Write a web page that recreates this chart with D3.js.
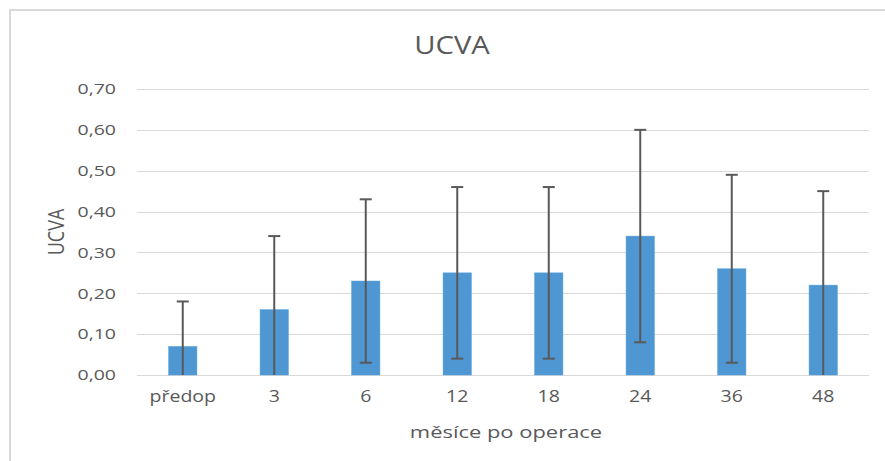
<!DOCTYPE html>
<html>
<head>
<meta charset="utf-8">
<script src="https://cdn.jsdelivr.net/npm/d3@7"></script>
<style>
body { margin: 0; background: #fff; }
svg text { font-family: "Open Sans", sans-serif; fill: #595959; }
</style>
</head>
<body>
<svg id="chart" width="885" height="461"></svg>
<script>
// data
var categories = ["předop", "3", "6", "12", "18", "24", "36", "48"];
var means = [0.07, 0.16, 0.23, 0.25, 0.25, 0.34, 0.26, 0.22];
var sds = [0.11, 0.18, 0.20, 0.21, 0.21, 0.26, 0.23, 0.23];
var yTicks = [0, 0.1, 0.2, 0.3, 0.4, 0.5, 0.6, 0.7];

var svg = d3.select("#chart");
var plotLeft = 137, plotRight = 869, plotTop = 89, plotBottom = 375;

// text in the original is drawn a bit wide
function stretch(sel, k){
  sel.each(function(){
    var w = this.getComputedTextLength();
    d3.select(this).attr("textLength", w * k).attr("lengthAdjust", "spacingAndGlyphs");
  });
}

// frame
svg.append("rect")
  .attr("x", 10).attr("y", 10)
  .attr("width", 890).attr("height", 470)
  .attr("fill", "none").attr("stroke", "#d9d9d9").attr("stroke-width", 2);

var x = d3.scaleBand().domain(categories).range([plotLeft, plotRight]).paddingInner(0.69).paddingOuter(0.345);
var y = d3.scaleLinear().domain([0, 0.7]).range([plotBottom, plotTop]);
var fmt = function(d){ return d3.format(".2f")(d).replace(".", ","); };

// grid
svg.append("g").selectAll("line").data(yTicks).enter().append("line")
  .attr("x1", plotLeft).attr("x2", plotRight)
  .attr("y1", function(d){ return Math.round(y(d)) + 0.5; })
  .attr("y2", function(d){ return Math.round(y(d)) + 0.5; })
  .attr("stroke", "#d9d9d9").attr("stroke-width", 1);

// y axis labels
var yAxis = d3.axisLeft(y).tickValues(yTicks).tickFormat(fmt).tickSize(0).tickPadding(21);
var gy = svg.append("g").attr("transform", "translate(" + plotLeft + ",0)").call(yAxis);
gy.select(".domain").remove();
gy.selectAll("text").style("font-size", "15px").attr("fill", "#595959").call(stretch, 1.3);

// x axis labels
var xAxis = d3.axisBottom(x).tickSize(0).tickPadding(16);
var gx = svg.append("g").attr("transform", "translate(0," + plotBottom + ")").call(xAxis);
gx.select(".domain").remove();
gx.selectAll("text").style("font-size", "16px").attr("fill", "#595959").call(stretch, 1.22);

// bars
svg.append("g").selectAll("rect").data(means).enter().append("rect")
  .attr("x", function(d, i){ return x(categories[i]); })
  .attr("width", x.bandwidth())
  .attr("y", function(d){ return y(d); })
  .attr("height", function(d){ return y(0) - y(d); })
  .attr("fill", "#4f97d3").attr("stroke", "#5aa3dc").attr("stroke-width", 0.5);

// error bars (lower end clipped at 0, no cap there)
var eb = svg.append("g").selectAll("g").data(means).enter().append("g")
  .attr("transform", function(d, i){ return "translate(" + (x(categories[i]) + x.bandwidth() / 2) + ",0)"; });
eb.append("line")
  .attr("x1", 0).attr("x2", 0)
  .attr("y1", function(d, i){ return y(d + sds[i]); })
  .attr("y2", function(d, i){ return y(Math.max(0, d - sds[i])); })
  .attr("stroke", "#595959").attr("stroke-width", 2);
eb.append("line")
  .attr("x1", -6).attr("x2", 6)
  .attr("y1", function(d, i){ return y(d + sds[i]); })
  .attr("y2", function(d, i){ return y(d + sds[i]); })
  .attr("stroke", "#595959").attr("stroke-width", 2);
eb.append("line")
  .attr("x1", -6).attr("x2", 6)
  .attr("y1", function(d, i){ return y(d - sds[i]); })
  .attr("y2", function(d, i){ return y(d - sds[i]); })
  .attr("stroke", "#595959").attr("stroke-width", 2)
  .attr("display", function(d, i){ return d - sds[i] > 0 ? null : "none"; });

// titles
svg.append("text").attr("x", 452).attr("y", 54).attr("text-anchor", "middle")
  .style("font-size", "25px").text("UCVA").call(stretch, 1.17);
svg.append("text").attr("transform", "translate(64,232) rotate(-90) scale(1,1.25)").attr("text-anchor", "middle")
  .style("font-size", "18px").text("UCVA");
svg.append("text").attr("x", 506).attr("y", 438).attr("text-anchor", "middle")
  .style("font-size", "17px").text("měsíce po operace").call(stretch, 1.29);
</script>
</body>
</html>
